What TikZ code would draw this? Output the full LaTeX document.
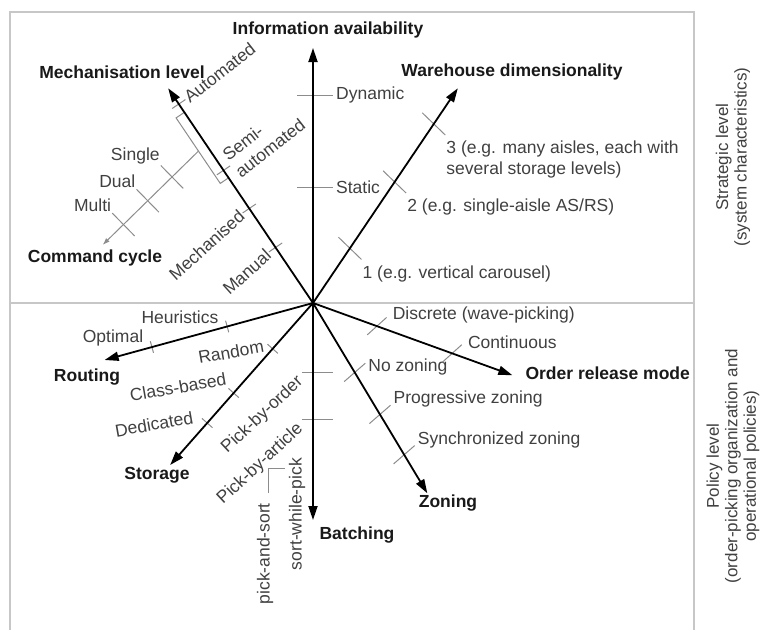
\documentclass[tikz,border=0pt]{standalone}
\usepackage{fontspec}
\setmainfont{Liberation Sans}
\usetikzlibrary{arrows.meta}
\newcommand{\lblsize}{\fontsize{17.5}{20.5}\selectfont}

\begin{document}
\begin{tikzpicture}[x=1pt,y=1pt,>={Triangle[length=14pt,width=9pt]},
  axis/.style={->,line width=1.8pt},
  tick/.style={black!45,line width=1pt},
  frame/.style={black!22,line width=1.5pt},
  ttl/.style={font=\lblsize\bfseries,text=black!90},
  lbl/.style={font=\lblsize,text=black!75,inner sep=1pt},
  side/.style={font=\fontsize{17}{18.5}\selectfont,text=black!75,align=center,rotate=90}]
  \useasboundingbox (-313,-327) rectangle (450,303);
  \draw[frame] (-303,-327) -- (-303,291) -- (381,291) -- (381,-327);
  \draw[frame] (-303,0) -- (381,0);
  \node[side] (strat) at (420,146) {Strategic level\\(system characteristics)};
  \node[side] (pol) at (420,-163) {Policy level\\(order-picking organization and\\operational policies)};

  \coordinate (O) at (0,0);
  \coordinate (info) at (90:255);
  \coordinate (mech) at (124:259);
  \coordinate (dim) at (56:259);
  \coordinate (rout) at (195.3:216);
  \coordinate (stor) at (228.6:216);
  \coordinate (batch) at (270:217);
  \coordinate (zone) at (-59:222);
  \coordinate (rel) at (-19.9:212);

  \foreach \d/\t in {208/Dynamic,116/Static}{
    \draw[tick] (-16,\d) -- (20,\d) coordinate (i\t);
    \node[lbl,anchor=west,xshift=2] (l\t) at (i\t) {\t};}

  \foreach \d/\t in {67/Manual,114/Mechanised}{
    \draw[tick] (124:\d) ++(34:8) -- ++(214:16) coordinate (m\t);
    \node[lbl,rotate=42,anchor=east] (l\t) at (m\t) {\t};}
  \draw[tick] (124:160) ++(214:8) -- ++(34:16) coordinate (mSemi);
  \node[lbl,rotate=38,anchor=west,align=left] (lSemi) at (mSemi) {Semi-\\automated};
  \draw[tick] (124:240) ++(214:8) -- ++(34:16) coordinate (mAuto);
  \node[lbl,rotate=38,anchor=west] (lAuto) at (mAuto) {Automated};
  \draw[tick] (124:151) -- ++(214:10) -- ++(124:79) -- (124:230);

  \path (124:190) ++(214:10) coordinate (cycS) ++(224.4:134) coordinate (cyc);
  \draw[tick,-{Latex[length=7pt,width=5pt]}] (cycS) -- (cyc);
  \foreach \d/\t in {37/Single,71/Dual,105/Multi}{
    \draw[tick] (cycS) ++(224.4:\d) ++(134.4:16) coordinate (c\t) -- ++(314.4:32);
    \node[lbl,anchor=south east] (l\t) at (c\t) {\t};}

  \foreach \d/\n in {66/1,146/2,216/3}
    \draw[tick] (56:\d) ++(136:16) -- ++(316:32) coordinate (w\n);
  \node[lbl,anchor=north west,yshift=-5] (lw1) at (w1) {1 (e.g. vertical carousel)};
  \node[lbl,anchor=north west,yshift=-5] (lw2) at (w2) {2 (e.g. single-aisle AS/RS)};
  \node[lbl,anchor=north west,yshift=-5,align=left] (lw3) at (w3) {3 (e.g. many aisles, each with\\several storage levels)};

  \foreach \d/\t in {89/Heuristics,167/Optimal}{
    \draw[tick] (195.3:\d) ++(285.3:6) -- ++(105.3:12) coordinate (r\t);
    \node[lbl,anchor=east,xshift=-6,yshift=3] (l\t) at (r\t) {\t};}

  \foreach \d in {61,120,160}
    \draw[tick] (228.6:\d) ++(318.6:7) -- ++(138.6:14);
  \node[lbl,rotate=10] (lRandom) at (-82,-49) {Random};
  \node[lbl,rotate=10] (lClass) at (-135,-84) {Class-based};
  \node[lbl,rotate=10] (lDed) at (-159,-121) {Dedicated};

  \foreach \d/\t in {69/order,116/article}{
    \draw[tick] (-11,-\d) coordinate (b\t) -- (20,-\d);
    \node[lbl,xshift=-7,rotate=43,anchor=north east] (l\t) at (b\t) {Pick-by-\t};}
  \draw[tick] (-44,-190) -- (-44,-165) -- (-28,-165);
  \node[lbl,rotate=90,anchor=east] (lpas) at (-48,-199) {pick-and-sort};
  \node[lbl,rotate=90,anchor=east] (lswp) at (-16,-154) {sort-while-pick};

  \foreach \d/\t/\s in {81/No zoning/-4,130/Progressive zoning/6,177/Synchronized zoning/6}{
    \draw[tick] (-59:\d) ++(221:14) -- ++(41:28) coordinate (z\d);
    \node[lbl,anchor=west,xshift=2,yshift=\s] (lz\d) at (z\d) {\t};}

  \foreach \d/\t in {68/{Discrete (wave-picking)},148/Continuous}{
    \draw[tick] (-19.9:\d) ++(222:13) -- ++(42:26) coordinate (o\d);
    \node[lbl,anchor=west,xshift=5,yshift=2] (lo\d) at (o\d) {\t};}

  \foreach \a in {info,mech,dim,rout,stor,batch,zone,rel}
    \draw[axis] (O) -- (\a);

  \node[ttl] (infot) at (15,273) {Information availability};
  \node[ttl] (mecht) at (-191,231) {Mechanisation level};
  \node[ttl] (dimt) at (199,231) {Warehouse dimensionality};
  \node[ttl] (cyct) at (-218,45) {Command cycle};
  \node[ttl] (routt) at (-226,-74) {Routing};
  \node[ttl] (stort) at (-156,-172) {Storage};
  \node[ttl] (batcht) at (44,-232) {Batching};
  \node[ttl] (zonet) at (135,-200) {Zoning};
  \node[ttl,anchor=west] (relt) at (209,-70) {Order release mode};
\end{tikzpicture}
\end{document}
